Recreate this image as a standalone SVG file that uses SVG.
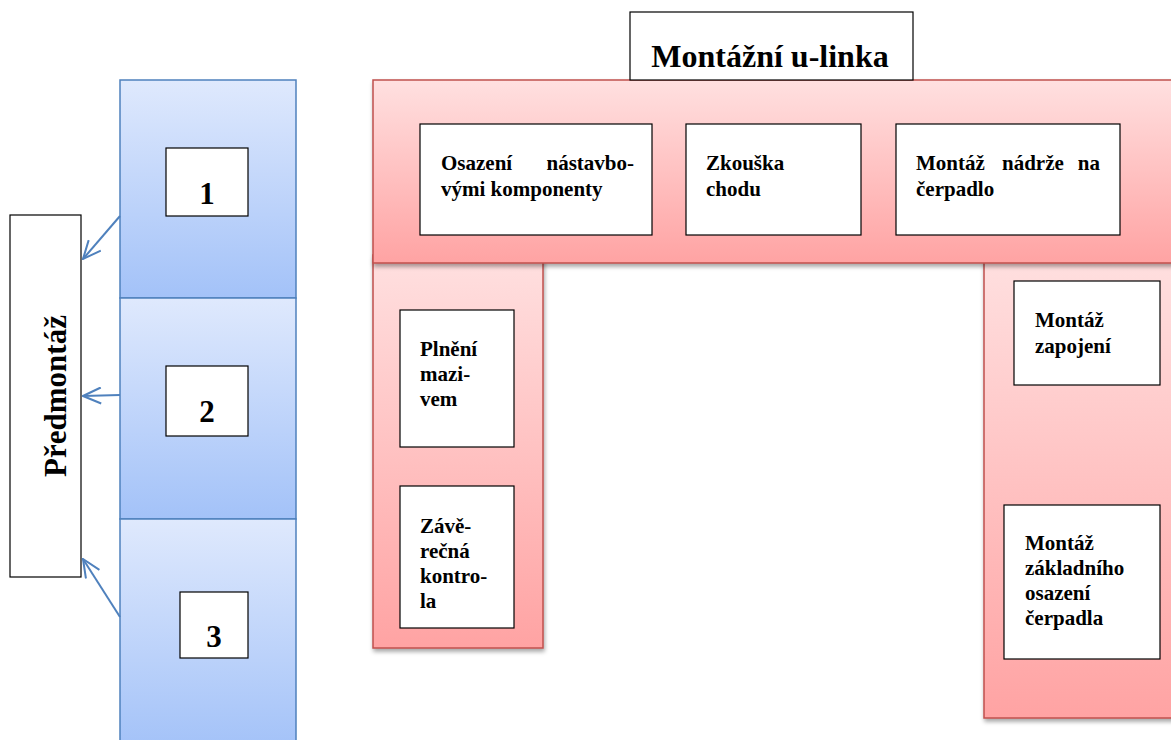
<svg xmlns="http://www.w3.org/2000/svg" width="1171" height="740" viewBox="0 0 1171 740">
<style>
.t{font-family:"Liberation Serif","DejaVu Serif",serif;font-weight:bold;fill:#000}
.s{font-size:21px}
.box{fill:#fff;stroke:#000;stroke-width:1.2}
.blue{fill:url(#gb);stroke:#4f81bd;stroke-width:1.5}
.red{fill:url(#gr);stroke:#c0504d;stroke-width:1.5;filter:url(#sh)}
.con{fill:none;stroke:#4f81bd;stroke-width:2}
</style>
<defs>
<linearGradient id="gb" x1="0" y1="0" x2="0" y2="1"><stop offset="0" stop-color="#dfe9fd"/><stop offset="1" stop-color="#a3c2f8"/></linearGradient>
<linearGradient id="gr" x1="0" y1="0" x2="0" y2="1"><stop offset="0" stop-color="#ffe0e0"/><stop offset="1" stop-color="#ffa3a3"/></linearGradient>
<filter id="sh" x="-10%" y="-10%" width="120%" height="130%"><feDropShadow dx="1" dy="3" stdDeviation="2" flood-color="#000" flood-opacity="0.35"/></filter>
<marker id="ah" viewBox="0 0 20 18" refX="19" refY="9" markerWidth="20" markerHeight="18" markerUnits="userSpaceOnUse" orient="auto"><path d="M1,1 L19,9 L1,17" fill="none" stroke="#4f81bd" stroke-width="2"/></marker>
</defs>

<g id="predmontaz-line">
<rect class="blue" x="120" y="80" width="176" height="218"/>
<rect class="blue" x="120" y="298" width="176" height="221"/>
<rect class="blue" x="120" y="519" width="176" height="230"/>
</g>
<g id="n1"><rect class="box" x="166" y="148" width="82" height="68"/><text class="t" x="207" y="204" font-size="31" text-anchor="middle">1</text></g>
<g id="n2"><rect class="box" x="166" y="366" width="82" height="70"/><text class="t" x="207" y="422" font-size="31" text-anchor="middle">2</text></g>
<g id="n3"><rect class="box" x="180" y="592" width="68" height="66"/><text class="t" x="214" y="647" font-size="31" text-anchor="middle">3</text></g>

<g id="predmontaz"><rect class="box" x="10" y="215" width="71" height="362"/><text class="t" font-size="31" text-anchor="middle" transform="translate(66,396) rotate(-90)">Předmontáž</text></g>

<g id="u-line">
<rect class="red" x="373" y="255" width="170" height="393"/>
<rect class="red" x="984" y="255" width="200" height="463"/>
<rect class="red" x="373" y="80" width="810" height="183"/>
</g>

<g id="title"><rect class="box" x="630" y="12" width="283" height="68"/><text class="t" x="770" y="67" font-size="32" text-anchor="middle">Montážní u-linka</text></g>

<g id="osazeni"><rect class="box" x="420" y="124" width="232" height="111"/>
<text class="t s" y="170"><tspan x="441">Osazení</tspan><tspan x="634" text-anchor="end">nástavbo-</tspan></text>
<text class="t s" x="441" y="196">vými komponenty</text></g>

<g id="zkouska"><rect class="box" x="686" y="124" width="175" height="111"/>
<text class="t s" x="706" y="170">Zkouška</text><text class="t s" x="706" y="196">chodu</text></g>

<g id="nadrz"><rect class="box" x="896" y="124" width="224" height="111"/>
<text class="t s" y="170"><tspan x="916">Montáž</tspan><tspan x="1002">nádrže</tspan><tspan x="1100" text-anchor="end">na</tspan></text>
<text class="t s" x="916" y="196">čerpadlo</text></g>

<g id="plneni"><rect class="box" x="400" y="310" width="114" height="137"/>
<text class="t s" x="420" y="356">Plnění</text><text class="t s" x="420" y="381">mazi-</text><text class="t s" x="420" y="406">vem</text></g>

<g id="kontrola"><rect class="box" x="400" y="486" width="114" height="142"/>
<text class="t s" x="420" y="533">Závě-</text><text class="t s" x="420" y="558">rečná</text><text class="t s" x="420" y="583">kontro-</text><text class="t s" x="420" y="608">la</text></g>

<g id="zapojeni"><rect class="box" x="1014" y="281" width="146" height="104"/>
<text class="t s" x="1035" y="327">Montáž</text><text class="t s" x="1035" y="353">zapojení</text></g>

<g id="zakladni"><rect class="box" x="1004" y="505" width="156" height="154"/>
<text class="t s" x="1025" y="550">Montáž</text><text class="t s" x="1025" y="575">základního</text><text class="t s" x="1025" y="600">osazení</text><text class="t s" x="1025" y="625">čerpadla</text></g>

<g id="connectors">
<line class="con" x1="120" y1="216" x2="83" y2="259" marker-end="url(#ah)"/>
<line class="con" x1="120" y1="395" x2="83" y2="396" marker-end="url(#ah)"/>
<line class="con" x1="120" y1="617" x2="83" y2="559" marker-end="url(#ah)"/>
</g>
</svg>
